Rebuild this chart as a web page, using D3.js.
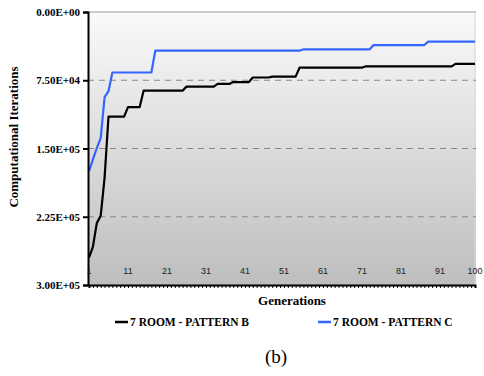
<!DOCTYPE html>
<html>
<head>
<meta charset="utf-8">
<script src="https://cdn.jsdelivr.net/npm/d3@7"></script>
<style>
  html, body { margin: 0; padding: 0; background: #ffffff; }
  svg { display: block; }
  .serif { font-family: "Liberation Serif", "Times New Roman", serif; }
</style>
</head>
<body>
<svg id="chart" width="484" height="376"></svg>
<script>
// Generations on the category axis
const generations = d3.range(1, 101);
const xTickLabels = ["1", "11", "21", "31", "41", "51", "61", "71", "81", "91", "100"];
const xTickGens = [1, 11, 21, 31, 41, 51, 61, 71, 81, 91, 100];
const yTicks = [0, 75000, 150000, 225000, 300000];

// Best computational iterations found per generation
const patternB = [
  270000, 258000, 232000, 224000, 182000, 115000, 115000, 115000, 115000, 115000,
  104500, 104500, 104500, 104500, 86500, 86500, 86500, 86500, 86500, 86500,
  86500, 86500, 86500, 86500, 86500, 82000, 82000, 82000, 82000, 82000,
  82000, 82000, 82000, 79000, 79000, 79000, 79000, 77000, 77000, 77000,
  77000, 77000, 72000, 72000, 72000, 72000, 72000, 71000, 71000, 71000,
  71000, 71000, 71000, 71000, 61200, 61200, 61200, 61200, 61200, 61200,
  61200, 61200, 61200, 61200, 61200, 61200, 61200, 61200, 61200, 61200,
  61200, 59700, 59700, 59700, 59700, 59700, 59700, 59700, 59700, 59700,
  59700, 59700, 59700, 59700, 59700, 59700, 59700, 59700, 59700, 59700,
  59700, 59700, 59700, 59700, 57000, 57000, 57000, 57000, 57000, 57000
];
const patternC = [
  175000, 162000, 149500, 138500, 93500, 87000, 66500, 66500, 66500, 66500,
  66500, 66500, 66500, 66500, 66500, 66500, 66500, 42500, 42500, 42500,
  42500, 42500, 42500, 42500, 42500, 42500, 42500, 42500, 42500, 42500,
  42500, 42500, 42500, 42500, 42500, 42500, 42500, 42500, 42500, 42500,
  42500, 42500, 42500, 42500, 42500, 42500, 42500, 42500, 42500, 42500,
  42500, 42500, 42500, 42500, 42500, 41000, 41000, 41000, 41000, 41000,
  41000, 41000, 41000, 41000, 41000, 41000, 41000, 41000, 41000, 41000,
  41000, 41000, 41000, 36300, 36300, 36300, 36300, 36300, 36300, 36300,
  36300, 36300, 36300, 36300, 36300, 36300, 36300, 32600, 32600, 32600,
  32600, 32600, 32600, 32600, 32600, 32600, 32600, 32600, 32600, 32600
];
const seriesNames = ["7 ROOM - PATTERN B", "7 ROOM - PATTERN C"];
const seriesColors = ["#000000", "#3366ff"];

const svg = d3.select("#chart");
const plot = { left: 88, right: 476, top: 12, bottom: 285 };

const x = d3.scaleLinear().domain([1, 100]).range([plot.left + 1, plot.right - 1]);
const y = d3.scaleLinear().domain([0, 300000]).range([plot.top, plot.bottom]);

// Plot area with a light-to-grey vertical gradient
const defs = svg.append("defs");
const grad = defs.append("linearGradient")
  .attr("id", "plotBg").attr("x1", 0).attr("y1", 0).attr("x2", 0).attr("y2", 1);
grad.append("stop").attr("offset", "0%").attr("stop-color", "#fafafa");
grad.append("stop").attr("offset", "100%").attr("stop-color", "#bebebe");

svg.append("rect")
  .attr("x", plot.left).attr("y", plot.top)
  .attr("width", plot.right - plot.left).attr("height", plot.bottom - plot.top)
  .attr("fill", "url(#plotBg)");

// Right border of the plot area
svg.append("line")
  .attr("x1", plot.right - 1).attr("x2", plot.right - 1)
  .attr("y1", plot.top).attr("y2", plot.bottom)
  .attr("stroke", "#d8d8d8").attr("stroke-width", 1);

// Horizontal gridlines
svg.append("g")
  .selectAll("line")
  .data(yTicks.filter(v => v > 0 && v < 300000))
  .join("line")
  .attr("x1", plot.left).attr("x2", plot.right)
  .attr("y1", d => y(d)).attr("y2", d => y(d))
  .attr("stroke", "#888888").attr("stroke-width", 1)
  .attr("stroke-dasharray", "6,5");

svg.append("line")
  .attr("x1", plot.left).attr("x2", plot.right)
  .attr("y1", y(0)).attr("y2", y(0))
  .attr("stroke", "#999999").attr("stroke-width", 1);

// Series lines
const line = d3.line().x((d, i) => x(generations[i])).y(d => y(d));
[patternB, patternC].forEach((vals, k) => {
  svg.append("path")
    .datum(vals)
    .attr("d", line)
    .attr("fill", "none")
    .attr("stroke", seriesColors[k])
    .attr("stroke-width", 2.2)
    .attr("stroke-linejoin", "round");
});

// Y axis
const fmtExp = v => {
  const [m, e] = v.toExponential(2).toUpperCase().split("E");
  const sign = e[0];
  const digits = e.slice(1).padStart(2, "0");
  return m + "E" + sign + digits;
};
const yAxis = d3.axisLeft(y).tickValues(yTicks).tickSize(5).tickFormat(fmtExp);
const gy = svg.append("g").attr("transform", `translate(${plot.left},0)`).call(yAxis);
gy.attr("font-family", null).attr("font-size", null);
gy.select(".domain").attr("stroke", "#000").attr("stroke-width", 2);
gy.selectAll(".tick line").attr("stroke", "#000").attr("stroke-width", 2);
gy.selectAll(".tick text")
  .attr("x", -8)
  .attr("fill", "#000")
  .attr("class", "serif")
  .style("font-weight", "bold")
  .style("font-size", "11px");

// X axis: small tick at every generation
const xAxis = d3.axisBottom(x).tickValues(generations).tickSize(3).tickFormat("");
const gx = svg.append("g").attr("transform", `translate(0,${plot.bottom})`).call(xAxis);
gx.select(".domain").attr("stroke", "#000").attr("stroke-width", 2);
gx.selectAll(".tick line").attr("stroke", "#000").attr("stroke-width", 1);

// Generation labels sit inside the plot, above the axis line
svg.append("g")
  .selectAll("text")
  .data(xTickGens)
  .join("text")
  .attr("x", d => x(d))
  .attr("y", 274)
  .attr("text-anchor", "middle")
  .attr("fill", "#222222")
  .style("font-family", "'Liberation Sans', Arial, sans-serif")
  .style("font-size", "9px")
  .text((d, i) => xTickLabels[i]);

// Axis titles
svg.append("text")
  .attr("class", "serif")
  .attr("transform", "translate(18,137) rotate(-90)")
  .attr("text-anchor", "middle")
  .style("font-weight", "bold")
  .style("font-size", "13px")
  .text("Computational Iterations");

svg.append("text")
  .attr("class", "serif")
  .attr("x", 292).attr("y", 305)
  .attr("text-anchor", "middle")
  .style("font-weight", "bold")
  .style("font-size", "13px")
  .text("Generations");

// Legend
const legendX = [115, 318];
seriesNames.forEach((name, k) => {
  const g = svg.append("g").attr("transform", `translate(${legendX[k]},322)`);
  g.append("line")
    .attr("x1", 0).attr("x2", 13).attr("y1", 0).attr("y2", 0)
    .attr("stroke", seriesColors[k]).attr("stroke-width", 2.5);
  g.append("text")
    .attr("class", "serif")
    .attr("x", 15).attr("y", 4)
    .style("font-weight", "bold")
    .style("font-size", "11.5px")
    .text(name);
});

// Sub-figure caption
svg.append("text")
  .attr("class", "serif")
  .attr("x", 276).attr("y", 363)
  .attr("text-anchor", "middle")
  .style("font-size", "19px")
  .text("(b)");
</script>
</body>
</html>
